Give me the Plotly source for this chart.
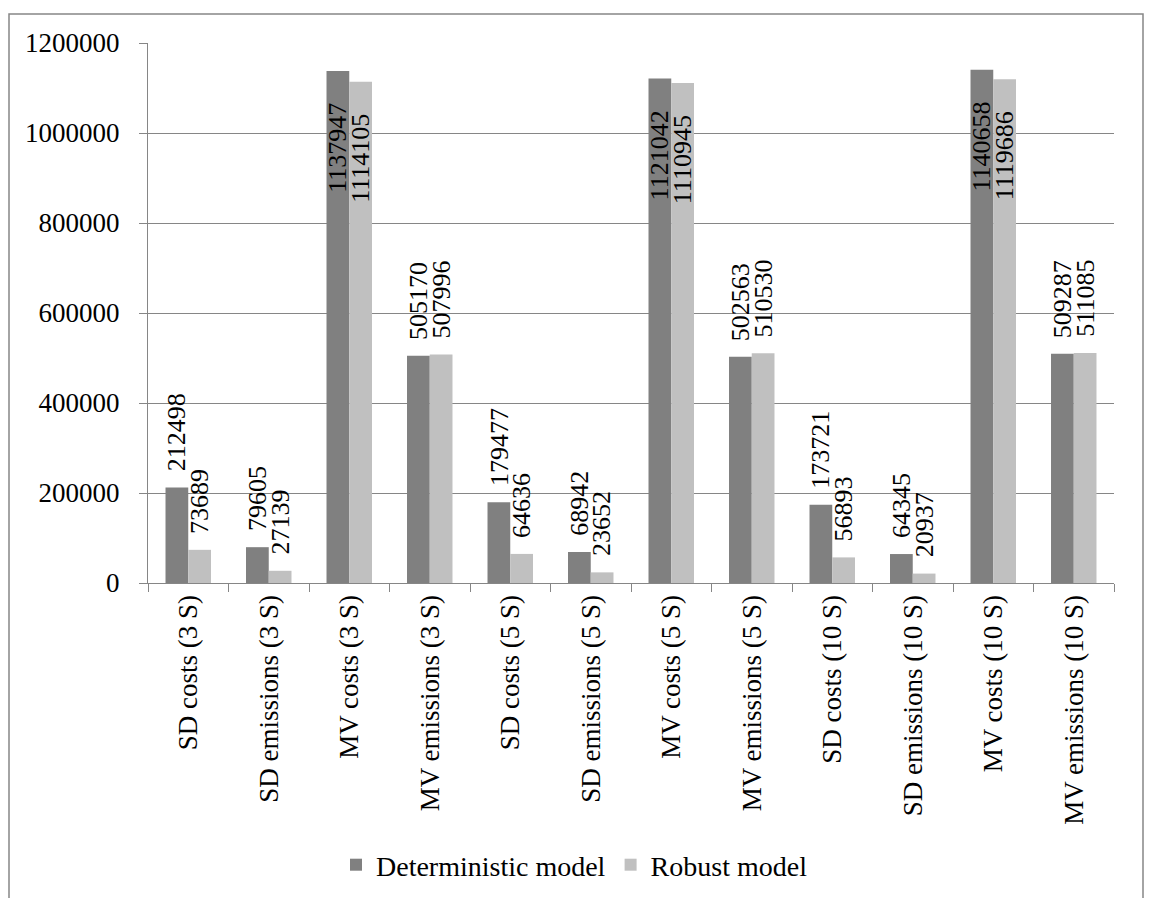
import plotly.graph_objects as go

categories = [
    "SD costs (3 S)", "SD emissions (3 S)", "MV costs (3 S)", "MV emissions (3 S)",
    "SD costs (5 S)", "SD emissions (5 S)", "MV costs (5 S)", "MV emissions (5 S)",
    "SD costs (10 S)", "SD emissions (10 S)", "MV costs (10 S)", "MV emissions (10 S)",
]
deterministic = [212498, 79605, 1137947, 505170, 179477, 68942,
                 1121042, 502563, 173721, 64345, 1140658, 509287]
robust = [73689, 27139, 1114105, 507996, 64636, 23652,
          1110945, 510530, 56893, 20937, 1119686, 511085]
y_ticks = [0, 200000, 400000, 600000, 800000, 1000000, 1200000]

FONT = "Liberation Serif, Times New Roman, serif"
GRID = "#868686"
DARK = "#808080"
LIGHT = "#c0c0c0"

W, H = 1149, 898
L, R, T, B = 148, 35, 43, 315
plot_w = W - L - R
plot_h = H - T - B

fig = go.Figure()
fig.add_trace(go.Bar(x=categories, y=deterministic, name="Deterministic model",
                     marker=dict(color=DARK, line=dict(width=0))))
fig.add_trace(go.Bar(x=categories, y=robust, name="Robust model",
                     marker=dict(color=LIGHT, line=dict(width=0))))

bargap = 0.435
bar_px = plot_w / len(categories) * (1 - bargap) / 2
y_max = y_ticks[-1]

# value labels: above the bar, or tucked inside the top when it would run off the chart
annotations = []
for series, shift in ((deterministic, -bar_px / 2), (robust, bar_px / 2)):
    for cat, val in zip(categories, series):
        tall = val > 0.8 * y_max
        annotations.append(dict(
            x=cat, y=val, xref="x", yref="y", text=str(val), showarrow=False,
            textangle=-90, xshift=shift,
            yanchor="top" if tall else "bottom",
            yshift=-30 if tall else 14,
            font=dict(family=FONT, size=26, color="black"),
        ))

fig.update_layout(
    width=W, height=H,
    margin=dict(l=L, r=R, t=T, b=B),
    paper_bgcolor="white", plot_bgcolor="white",
    barmode="group", bargap=bargap, bargroupgap=0,
    font=dict(family=FONT, size=27, color="black"),
    annotations=annotations,
    legend=dict(orientation="h", xref="container", yref="container",
                x=0.5, xanchor="center", y=1 - 865 / H, yanchor="middle",
                font=dict(family=FONT, size=28), itemwidth=30,
                traceorder="normal", tracegroupgap=0),
    showlegend=True,
    shapes=[dict(type="rect", xref="paper", yref="paper",
                 x0=(9 - L) / plot_w, x1=(1143 - L) / plot_w,
                 y0=(H - B - 915) / plot_h, y1=(H - B - 14) / plot_h,
                 line=dict(color=GRID, width=1.5), fillcolor="rgba(0,0,0,0)",
                 layer="below")],
)

fig.update_yaxes(range=[0, y_max], tickvals=y_ticks, tickformat="d",
                 showgrid=True, gridcolor=GRID, gridwidth=1.3,
                 showline=True, linecolor=GRID, linewidth=1.3,
                 ticks="outside", ticklen=8, tickcolor=GRID, tickwidth=1.3,
                 ticklabelstandoff=14, zeroline=False,
                 tickfont=dict(family=FONT, size=27, color="black"))
fig.update_xaxes(tickangle=-90, showline=True, linecolor=GRID, linewidth=1.3,
                 ticks="outside", ticklen=8, tickcolor=GRID, tickwidth=1.3,
                 tickson="boundaries", showgrid=False,
                 tickfont=dict(family=FONT, size=27, color="black"))

fig.write_html("out.html")
